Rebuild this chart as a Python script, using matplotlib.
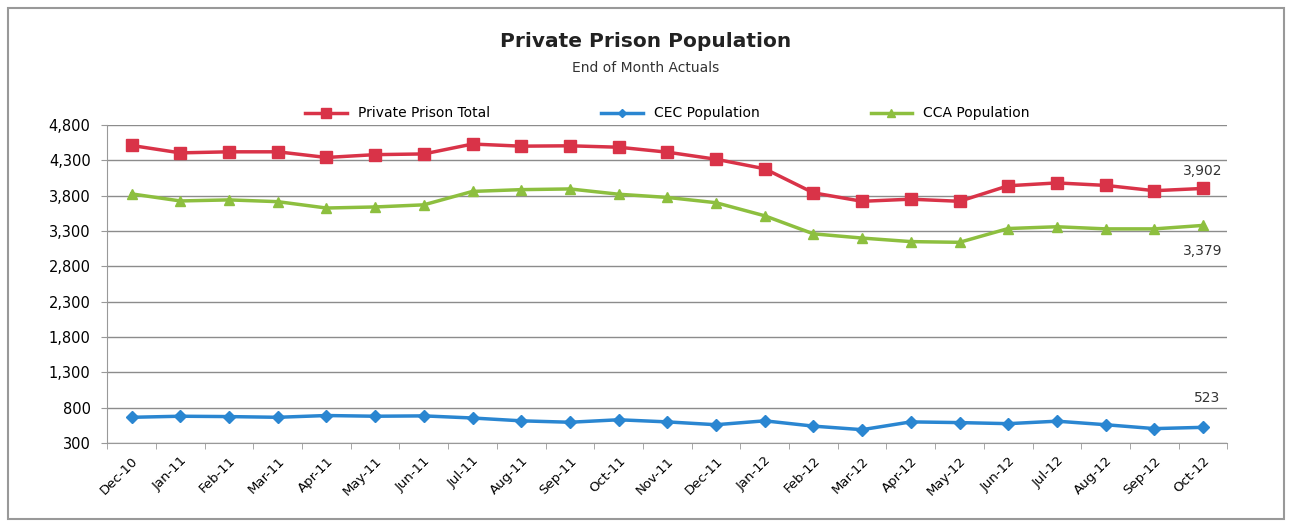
import matplotlib.pyplot as plt
from matplotlib.patches import Rectangle
from matplotlib.ticker import FuncFormatter, FixedLocator

# data (end of month actuals)
months = ['Dec-10', 'Jan-11', 'Feb-11', 'Mar-11', 'Apr-11', 'May-11', 'Jun-11',
          'Jul-11', 'Aug-11', 'Sep-11', 'Oct-11', 'Nov-11', 'Dec-11', 'Jan-12',
          'Feb-12', 'Mar-12', 'Apr-12', 'May-12', 'Jun-12', 'Jul-12', 'Aug-12',
          'Sep-12', 'Oct-12']
private_total = [4510, 4405, 4420, 4420, 4340, 4380, 4390, 4530, 4500, 4505, 4485, 4415,
                 4315, 4180, 3840, 3720, 3750, 3720, 3940, 3980, 3945, 3870, 3902]
cec_pop = [665, 680, 675, 665, 690, 680, 685, 655, 615, 595, 630, 600,
           560, 615, 540, 490, 600, 590, 575, 610, 560, 505, 523]
cca_pop = [3825, 3725, 3740, 3715, 3625, 3640, 3670, 3860, 3885, 3895, 3820, 3775,
           3700, 3515, 3260, 3200, 3150, 3140, 3335, 3360, 3330, 3330, 3379]
y_ticks = [300, 800, 1300, 1800, 2300, 2800, 3300, 3800, 4300, 4800]

red = '#D93348'
blue = '#2A86D1'
green = '#8DBF3F'

fig = plt.figure(figsize=(12.92, 5.25), dpi=100)
ax = fig.add_axes([0.083, 0.156, 0.867, 0.606])

x = list(range(len(months)))
ax.plot(x, private_total, color=red, lw=2.5, marker='s', ms=9, label='Private Prison Total')
ax.plot(x, cec_pop, color=blue, lw=2.5, marker='D', ms=6, label='CEC Population')
ax.plot(x, cca_pop, color=green, lw=2.5, marker='^', ms=7, label='CCA Population')

# value labels on the last point
last = len(months) - 1
ax.annotate(f'{private_total[-1]:,}', (last, private_total[-1]), xytext=(0, 10),
            textcoords='offset points', ha='center', fontsize=10, color='#333333')
ax.annotate(f'{cca_pop[-1]:,}', (last, cca_pop[-1]), xytext=(0, -21),
            textcoords='offset points', ha='center', fontsize=10, color='#333333')
ax.annotate(f'{cec_pop[-1]:,}', (last, cec_pop[-1]), xytext=(3, 18),
            textcoords='offset points', ha='center', fontsize=10, color='#333333')

ax.set_ylim(300, 4800)
ax.set_yticks(y_ticks)
ax.yaxis.set_major_formatter(FuncFormatter(lambda v, p: f'{int(v):,}'))
ax.set_xlim(-0.5, len(months) - 0.5)
ax.set_xticks(x)
ax.set_xticklabels(months, rotation=45, ha='right', rotation_mode='anchor', fontsize=9.5)
ax.xaxis.set_minor_locator(FixedLocator([i - 0.5 for i in range(len(months) + 1)]))
ax.tick_params(axis='x', which='major', length=0, pad=8)
ax.tick_params(axis='x', which='minor', length=4, color='#999999')
ax.tick_params(axis='y', length=4, color='#999999', labelsize=10.5, pad=8)

ax.grid(axis='y', color='#8c8c8c', lw=1)
ax.set_axisbelow(True)
for s in ['top', 'right']:
    ax.spines[s].set_visible(False)
for s in ['left', 'bottom']:
    ax.spines[s].set_color('#999999')

fig.text(0.5, 0.91, 'Private Prison Population', ha='center', fontsize=14.5, fontweight='bold',
         color='#222222')
fig.text(0.5, 0.862, 'End of Month Actuals', ha='center', fontsize=10, color='#333333')

ax.legend(loc='lower center', bbox_to_anchor=(0.5, 0.975), ncol=3, frameon=False,
          fontsize=10, columnspacing=8, handlelength=3, markerscale=0.75)

fig.patches.append(Rectangle((0.006, 0.012), 0.988, 0.972, transform=fig.transFigure,
                             fill=False, edgecolor='#999999', lw=1.5))

fig.savefig('out.png', dpi=100)
